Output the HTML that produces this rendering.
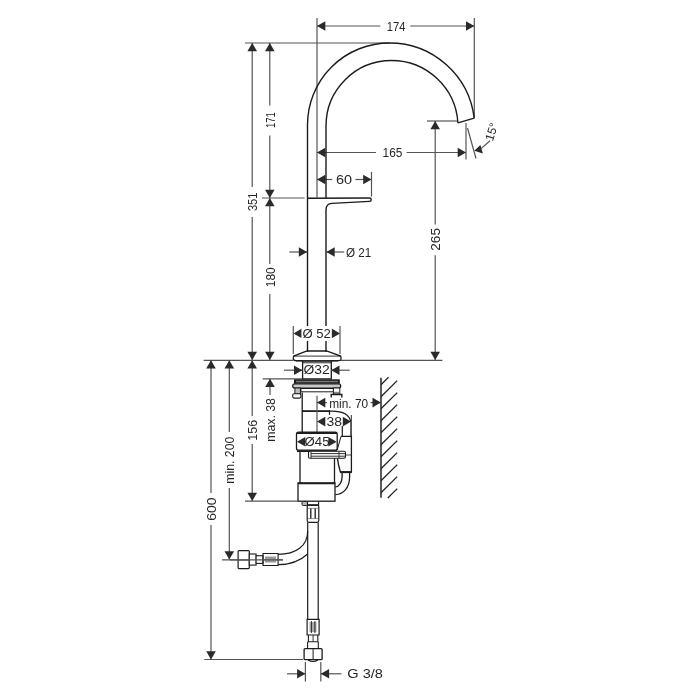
<!DOCTYPE html>
<html><head><meta charset="utf-8"><style>
html,body{margin:0;padding:0;background:#fff;}
svg{display:block;filter:grayscale(1);}
text{font-family:"Liberation Sans",sans-serif;}
</style></head><body>
<svg width="700" height="700" viewBox="0 0 700 700">
<rect width="700" height="700" fill="#fff"/>
<line x1="245" y1="43" x2="390" y2="43" stroke="#555555" stroke-width="1.2"/>
<line x1="317" y1="18" x2="317" y2="197.5" stroke="#555555" stroke-width="1.2"/>
<line x1="474.3" y1="18" x2="474.3" y2="118.2" stroke="#555555" stroke-width="1.2"/>
<line x1="317" y1="26" x2="380.3" y2="26" stroke="#555555" stroke-width="1.2"/>
<line x1="410.3" y1="26" x2="474.3" y2="26" stroke="#555555" stroke-width="1.2"/>
<polygon points="317.00,26.00 325.30,21.20 325.30,30.80" fill="#2a2a2a"/>
<polygon points="474.30,26.00 466.00,30.80 466.00,21.20" fill="#2a2a2a"/>
<text transform="translate(386.76,30.60) scale(0.860,1)" font-size="13.0" fill="#262626">174</text>
<line x1="252.2" y1="43" x2="252.2" y2="187" stroke="#555555" stroke-width="1.2"/>
<line x1="252.2" y1="217" x2="252.2" y2="360" stroke="#555555" stroke-width="1.2"/>
<polygon points="252.20,43.00 257.00,51.30 247.40,51.30" fill="#2a2a2a"/>
<polygon points="252.20,360.00 247.40,351.70 257.00,351.70" fill="#2a2a2a"/>
<text transform="translate(256.90,211.12) rotate(-90) scale(0.860,1)" font-size="13.0" fill="#262626">351</text>
<line x1="269.8" y1="43" x2="269.8" y2="105.4" stroke="#555555" stroke-width="1.2"/>
<line x1="269.8" y1="135.4" x2="269.8" y2="198" stroke="#555555" stroke-width="1.2"/>
<polygon points="269.80,43.00 274.60,51.30 265.00,51.30" fill="#2a2a2a"/>
<polygon points="269.80,198.00 265.00,189.70 274.60,189.70" fill="#2a2a2a"/>
<text transform="translate(274.70,128.02) rotate(-90) scale(0.737,1)" font-size="13.0" fill="#262626">171</text>
<line x1="262" y1="198" x2="304.6" y2="198" stroke="#555555" stroke-width="1.2"/>
<line x1="269.8" y1="198" x2="269.8" y2="264" stroke="#555555" stroke-width="1.2"/>
<line x1="269.8" y1="294" x2="269.8" y2="360" stroke="#555555" stroke-width="1.2"/>
<polygon points="269.80,198.00 274.60,206.30 265.00,206.30" fill="#2a2a2a"/>
<polygon points="269.80,360.00 265.00,351.70 274.60,351.70" fill="#2a2a2a"/>
<text transform="translate(274.60,287.20) rotate(-90) scale(0.920,1)" font-size="13.0" fill="#262626">180</text>
<line x1="317" y1="152.5" x2="376" y2="152.5" stroke="#555555" stroke-width="1.2"/>
<line x1="406.5" y1="152.5" x2="466" y2="152.5" stroke="#555555" stroke-width="1.2"/>
<polygon points="317.00,152.50 325.30,147.70 325.30,157.30" fill="#2a2a2a"/>
<polygon points="466.00,152.50 457.70,157.30 457.70,147.70" fill="#2a2a2a"/>
<text transform="translate(382.61,156.80) scale(0.917,1)" font-size="13.0" fill="#262626">165</text>
<line x1="317" y1="179.5" x2="332.3" y2="179.5" stroke="#555555" stroke-width="1.2"/>
<line x1="355.4" y1="179.5" x2="371.5" y2="179.5" stroke="#555555" stroke-width="1.2"/>
<polygon points="317.00,179.50 325.30,174.70 325.30,184.30" fill="#2a2a2a"/>
<polygon points="371.50,179.50 363.20,184.30 363.20,174.70" fill="#2a2a2a"/>
<line x1="371.5" y1="172" x2="371.5" y2="196.5" stroke="#555555" stroke-width="1.2"/>
<text transform="translate(336.08,183.80) scale(1.113,1)" font-size="13.0" fill="#262626">60</text>
<line x1="289.3" y1="252" x2="307.1" y2="252" stroke="#555555" stroke-width="1.2"/>
<polygon points="307.10,252.00 298.80,256.80 298.80,247.20" fill="#2a2a2a"/>
<line x1="326.4" y1="252" x2="344.3" y2="252" stroke="#555555" stroke-width="1.2"/>
<polygon points="326.40,252.00 334.70,247.20 334.70,256.80" fill="#2a2a2a"/>
<text transform="translate(345.99,256.50) scale(0.897,1)" font-size="13.0" fill="#262626">&#216; 21</text>
<line x1="427" y1="121" x2="458" y2="121" stroke="#555555" stroke-width="1.2"/>
<line x1="435.2" y1="121" x2="435.2" y2="224.4" stroke="#555555" stroke-width="1.2"/>
<line x1="435.2" y1="255.3" x2="435.2" y2="360" stroke="#555555" stroke-width="1.2"/>
<polygon points="435.20,121.00 440.00,129.30 430.40,129.30" fill="#2a2a2a"/>
<polygon points="435.20,360.00 430.40,351.70 440.00,351.70" fill="#2a2a2a"/>
<text transform="translate(440.40,250.68) rotate(-90) scale(1.044,1)" font-size="13.0" fill="#262626">265</text>
<line x1="466" y1="123" x2="466" y2="159.5" stroke="#555555" stroke-width="1.2"/>
<line x1="467.5" y1="128" x2="476" y2="158.5" stroke="#555555" stroke-width="1.2"/>
<polygon points="474.3,150.7 480.4,145 482.9,153.6" fill="#2a2a2a"/>
<line x1="481" y1="148.6" x2="490" y2="140.7" stroke="#555555" stroke-width="1.2"/>
<text transform="translate(495.5,133) rotate(-72)" font-size="12" text-anchor="middle" fill="#262626">15&#176;</text>
<line x1="340" y1="360.4" x2="442.4" y2="360.4" stroke="#555555" stroke-width="1.1"/>
<path d="M307.5,352 L307.5,125 A82,82 0 0 1 389.5,43 A85.3,85.3 0 0 1 474.2,118.2" stroke="#1c1c1c" stroke-width="1.4" fill="none" />
<path d="M326,198 L326,126 A65.5,65.5 0 0 1 391.5,60.5 A66.5,66.5 0 0 1 457.9,122.9" stroke="#1c1c1c" stroke-width="1.4" fill="none" />
<path d="M457.9,122.9 L474.2,118.2" stroke="#1c1c1c" stroke-width="1.4" fill="none" />
<path d="M307.5,198.2 L369.5,198 C371.8,198 371.8,201.3 369.5,201.4 L332,203.4 Q326,203.7 326,210 L326,352" stroke="#1c1c1c" stroke-width="1.4" fill="none" />
<path d="M307,351 L326.5,351 L340.7,356.1 Q342,360.4 339,360.6 L295.5,360.6 Q292.3,360.4 293.6,356.1 Z" stroke="#1c1c1c" stroke-width="1.3" fill="none" />
<line x1="293.8" y1="356.1" x2="340.5" y2="356.1" stroke="#1c1c1c" stroke-width="0.9"/>
<line x1="293.3" y1="326" x2="293.3" y2="354" stroke="#555555" stroke-width="1.2"/>
<line x1="340" y1="326" x2="340" y2="354" stroke="#555555" stroke-width="1.2"/>
<polygon points="293.50,333.40 301.80,328.60 301.80,338.20" fill="#2a2a2a"/>
<polygon points="340.00,333.40 331.70,338.20 331.70,328.60" fill="#2a2a2a"/>
<rect x="301.5" y="326" width="30" height="15" fill="#fff"/>
<text transform="translate(302.44,337.80) scale(1.096,1)" font-size="12" fill="#262626">&#216; 52</text>
<rect x="302.6" y="360.6" width="28.7" height="2.8" fill="#6a6a6a"/>
<line x1="296" y1="361" x2="338" y2="361" stroke="#1c1c1c" stroke-width="1.1"/>
<path d="M302.6,361 L302.6,378.8 L331.3,378.8 L331.3,361" stroke="#1c1c1c" stroke-width="1.3" fill="none" />
<line x1="284" y1="370.2" x2="302.3" y2="370.2" stroke="#555555" stroke-width="1.2"/>
<polygon points="302.30,370.20 294.00,375.00 294.00,365.40" fill="#2a2a2a"/>
<line x1="331.2" y1="370.2" x2="349.7" y2="370.2" stroke="#555555" stroke-width="1.2"/>
<polygon points="331.20,370.20 339.50,365.40 339.50,375.00" fill="#2a2a2a"/>
<text transform="translate(303.51,374.40) scale(1.159,1)" font-size="12" fill="#262626">&#216;32</text>
<line x1="262.7" y1="378.8" x2="302.5" y2="378.8" stroke="#555555" stroke-width="1.2"/>
<line x1="270" y1="378.8" x2="270" y2="395" stroke="#555555" stroke-width="1.2"/>
<polygon points="270.00,378.80 274.80,387.10 265.20,387.10" fill="#2a2a2a"/>
<text transform="translate(275.10,441.83) rotate(-90) scale(0.947,1)" font-size="13.0" fill="#262626">max. 38</text>
<rect x="294" y="379.3" width="45.8" height="4.4" fill="#1c1c1c"/>
<rect x="296" y="380.8" width="41.8" height="1.5" fill="#777"/>
<rect x="292.7" y="383.8" width="48" height="4.2" rx="2" fill="#c8c8c8" stroke="#1c1c1c" stroke-width="1.2"/>
<rect x="300.9" y="388.5" width="32.5" height="3.3" fill="#fff" stroke="#1c1c1c" stroke-width="1"/>
<rect x="294.9" y="388" width="5.5" height="5.8" fill="#bbb" stroke="#1c1c1c" stroke-width="1"/>
<rect x="292.7" y="393.8" width="8.2" height="4.3" rx="1.5" fill="#fff" stroke="#1c1c1c" stroke-width="1.1"/>
<rect x="333.4" y="388" width="6.4" height="5.8" fill="#fff" stroke="#1c1c1c" stroke-width="1"/>
<rect x="334" y="391.8" width="5.2" height="1.8" fill="#888"/>
<path d="M331.2,397.5 L331.2,394.5 L341.8,394.5 L341.8,397.5" stroke="#1c1c1c" stroke-width="1.4" fill="none"/>
<path d="M302.2,392.4 L302.2,411 M329.5,410.5 L329.5,414.7" stroke="#1c1c1c" stroke-width="1.3" fill="none" />
<line x1="302" y1="411.1" x2="330" y2="411.1" stroke="#1c1c1c" stroke-width="1.8"/>
<path d="M302.2,411 L302.2,432" stroke="#1c1c1c" stroke-width="1.3" fill="none" />
<path d="M329.5,411.1 C343,410.5 349.5,415 351,422 L351,436" stroke="#1c1c1c" stroke-width="1.3" fill="none" />
<path d="M342.3,426 L342.3,436" stroke="#1c1c1c" stroke-width="1.2" fill="none" />
<line x1="317" y1="395.7" x2="317" y2="432" stroke="#555555" stroke-width="1.2"/>
<line x1="317" y1="402.6" x2="327" y2="402.6" stroke="#555555" stroke-width="1.2"/>
<polygon points="317.00,402.60 325.30,397.80 325.30,407.40" fill="#2a2a2a"/>
<line x1="370.6" y1="402.6" x2="380.8" y2="402.6" stroke="#555555" stroke-width="1.2"/>
<polygon points="380.80,402.60 372.50,407.40 372.50,397.80" fill="#2a2a2a"/>
<text transform="translate(329.20,408.30) scale(0.914,1)" font-size="13.0" fill="#262626">min. 70</text>
<polygon points="317.00,421.60 325.30,416.80 325.30,426.40" fill="#2a2a2a"/>
<polygon points="351.10,421.60 342.80,426.40 342.80,416.80" fill="#2a2a2a"/>
<line x1="351.4" y1="414.9" x2="351.4" y2="436" stroke="#555555" stroke-width="1.2"/>
<text transform="translate(326.48,426.20) scale(1.118,1)" font-size="12.5" fill="#262626">38</text>
<rect x="296.5" y="432.2" width="40.7" height="18" rx="2" fill="#fff" stroke="#1c1c1c" stroke-width="1.3"/>
<line x1="297" y1="433" x2="337" y2="433" stroke="#1c1c1c" stroke-width="1.8"/>
<line x1="297" y1="451.2" x2="337" y2="451.2" stroke="#1c1c1c" stroke-width="1.8"/>
<polygon points="297.00,441.80 305.30,437.00 305.30,446.60" fill="#2a2a2a"/>
<polygon points="336.60,441.80 328.30,446.60 328.30,437.00" fill="#2a2a2a"/>
<text transform="translate(304.54,446.40) scale(1.102,1)" font-size="12" fill="#262626">&#216;45</text>
<path d="M341,436.3 L351.4,436.3 L351.4,472 L340.4,472 Q338,464 337.5,458.6" stroke="#1c1c1c" stroke-width="1.3" fill="none" />
<line x1="340.4" y1="472.2" x2="351.6" y2="472.2" stroke="#1c1c1c" stroke-width="1.8"/>
<path d="M341,436.3 L337.2,450" stroke="#1c1c1c" stroke-width="1.0" fill="none" />
<rect x="308.5" y="451.3" width="37" height="7" rx="1.5" fill="#fff" stroke="#1c1c1c" stroke-width="1.1"/>
<line x1="311" y1="453.6" x2="345.5" y2="453.6" stroke="#1c1c1c" stroke-width="0.9"/>
<line x1="311" y1="456.2" x2="345.5" y2="456.2" stroke="#1c1c1c" stroke-width="0.9"/>
<line x1="311" y1="451.5" x2="311" y2="458.3" stroke="#1c1c1c" stroke-width="0.9"/>
<line x1="339" y1="451.3" x2="339" y2="458.3" stroke="#1c1c1c" stroke-width="0.8"/>
<line x1="345.5" y1="455" x2="351.2" y2="455" stroke="#1c1c1c" stroke-width="0.8"/>
<path d="M300,452 L300,483 M334.5,458.3 L334.5,483" stroke="#1c1c1c" stroke-width="1.3" fill="none" />
<rect x="298" y="483" width="37" height="18.2" fill="#fff" stroke="#1c1c1c" stroke-width="1.3"/>
<line x1="298" y1="483.3" x2="335" y2="483.3" stroke="#1c1c1c" stroke-width="1.8"/>
<path d="M349.6,472 L349.6,477 C349.6,488 343,494.6 335.4,494.6" stroke="#1c1c1c" stroke-width="1.3" fill="none" />
<path d="M342.1,472 L342.1,477 C342.1,482 339,486.8 335.4,486.8" stroke="#1c1c1c" stroke-width="1.3" fill="none" />
<line x1="203.6" y1="360.4" x2="293" y2="360.4" stroke="#555555" stroke-width="1.1"/>
<line x1="252.2" y1="360" x2="252.2" y2="416" stroke="#555555" stroke-width="1.2"/>
<line x1="252.2" y1="444" x2="252.2" y2="501" stroke="#555555" stroke-width="1.2"/>
<polygon points="252.20,360.20 257.00,368.50 247.40,368.50" fill="#2a2a2a"/>
<polygon points="252.20,501.00 247.40,492.70 257.00,492.70" fill="#2a2a2a"/>
<text transform="translate(257.10,440.63) rotate(-90) scale(0.958,1)" font-size="13.0" fill="#262626">156</text>
<line x1="245" y1="501.2" x2="298" y2="501.2" stroke="#555555" stroke-width="1.2"/>
<line x1="229.3" y1="360" x2="229.3" y2="432" stroke="#555555" stroke-width="1.2"/>
<line x1="229.3" y1="488" x2="229.3" y2="559.5" stroke="#555555" stroke-width="1.2"/>
<polygon points="229.30,360.20 234.10,368.50 224.50,368.50" fill="#2a2a2a"/>
<polygon points="229.30,559.50 224.50,551.20 234.10,551.20" fill="#2a2a2a"/>
<text transform="translate(233.60,483.73) rotate(-90) scale(0.945,1)" font-size="13.0" fill="#262626">min. 200</text>
<line x1="222" y1="559.8" x2="283" y2="559.8" stroke="#555555" stroke-width="1.2"/>
<line x1="211" y1="360" x2="211" y2="493" stroke="#555555" stroke-width="1.2"/>
<line x1="211" y1="525" x2="211" y2="659.5" stroke="#555555" stroke-width="1.2"/>
<polygon points="211.00,360.20 215.80,368.50 206.20,368.50" fill="#2a2a2a"/>
<polygon points="211.00,659.50 206.20,651.20 215.80,651.20" fill="#2a2a2a"/>
<text transform="translate(216.40,520.70) rotate(-90) scale(1.076,1)" font-size="13.0" fill="#262626">600</text>
<line x1="204.3" y1="659.5" x2="303" y2="659.5" stroke="#555555" stroke-width="1.2"/>
<line x1="381" y1="377.7" x2="381" y2="497.7" stroke="#303030" stroke-width="1.6"/>
<g stroke="#222" stroke-width="1.3">
<line x1="381.00" y1="384.80" x2="388.50" y2="377.30"/>
<line x1="381.00" y1="396.80" x2="397.20" y2="380.60"/>
<line x1="381.00" y1="408.80" x2="397.20" y2="392.60"/>
<line x1="381.00" y1="420.80" x2="397.20" y2="404.60"/>
<line x1="381.00" y1="432.80" x2="397.20" y2="416.60"/>
<line x1="381.00" y1="444.80" x2="397.20" y2="428.60"/>
<line x1="381.00" y1="456.80" x2="397.20" y2="440.60"/>
<line x1="381.00" y1="468.80" x2="397.20" y2="452.60"/>
<line x1="381.00" y1="480.80" x2="397.20" y2="464.60"/>
<line x1="381.00" y1="492.80" x2="397.20" y2="476.60"/>
<line x1="387.80" y1="498.00" x2="397.20" y2="488.60"/>
</g>
<rect x="302" y="501.5" width="5.6" height="4" rx="1.2" fill="#bbb" stroke="#1c1c1c" stroke-width="1"/>
<path d="M307.4,501.5 L307.4,505.3 L318.6,505.3 L318.6,501.5" stroke="#1c1c1c" stroke-width="1.1" fill="none" />
<rect x="307.2" y="505" width="11.6" height="17.4" rx="1.8" fill="#fff" stroke="#1c1c1c" stroke-width="1.2"/>
<line x1="308" y1="508.3" x2="318" y2="508.3" stroke="#777" stroke-width="0.8"/>
<line x1="308" y1="518.6" x2="318" y2="518.6" stroke="#777" stroke-width="0.8"/>
<line x1="307.4" y1="505.2" x2="318.6" y2="505.2" stroke="#1c1c1c" stroke-width="1.6"/>
<line x1="310.8" y1="508.5" x2="310.8" y2="518.5" stroke="#1c1c1c" stroke-width="1.3"/>
<line x1="315.2" y1="508.5" x2="315.2" y2="518.5" stroke="#1c1c1c" stroke-width="1.3"/>
<path d="M307.7,522.4 L307.7,619.4 M318.2,522.4 L318.2,619.4" stroke="#1c1c1c" stroke-width="1.2" fill="none" />
<path d="M307.7,531 C307.7,546 296,554.4 278.1,554.4" stroke="#1c1c1c" stroke-width="1.2" fill="none" />
<path d="M307.7,554 C300,561 292,564.7 278.1,564.7" stroke="#1c1c1c" stroke-width="1.2" fill="none" />
<rect x="238.1" y="550.6" width="11.2" height="18" rx="1" fill="#fff" stroke="#1c1c1c" stroke-width="1.2"/>
<line x1="238.5" y1="560" x2="249" y2="560" stroke="#1c1c1c" stroke-width="1"/>
<rect x="249.3" y="554" width="6.8" height="11.1" fill="#fff" stroke="#1c1c1c" stroke-width="1.1"/>
<rect x="256.1" y="555.7" width="6.9" height="7.7" fill="#fff" stroke="#1c1c1c" stroke-width="1.1"/>
<path d="M263,553.5 L278.1,553.5 L278.1,565.5 L263,565.5 Z" stroke="#1c1c1c" stroke-width="1.1" fill="none" />
<rect x="265" y="556.5" width="11" height="6" fill="#999"/>
<line x1="230" y1="559.8" x2="283" y2="559.8" stroke="#555555" stroke-width="1.2"/>
<path d="M307.1,619.4 L319.1,619.4 L319.1,635 L307.1,635 Z" stroke="#1c1c1c" stroke-width="1.2" fill="none" />
<rect x="309.5" y="622" width="7" height="10" fill="#aaa"/>
<line x1="311.4" y1="621" x2="311.4" y2="633" stroke="#1c1c1c" stroke-width="0.9"/>
<line x1="314.9" y1="621" x2="314.9" y2="633" stroke="#1c1c1c" stroke-width="0.9"/>
<path d="M308.4,635 L308.4,641.7 L317.8,641.7 L317.8,635" stroke="#1c1c1c" stroke-width="1.1" fill="none" />
<line x1="313.1" y1="635" x2="313.1" y2="641.7" stroke="#1c1c1c" stroke-width="0.9"/>
<path d="M307.6,641.7 L307.6,648.6 L318.3,648.6 L318.3,641.7" stroke="#1c1c1c" stroke-width="1.1" fill="none" />
<rect x="304.1" y="648.6" width="18" height="11.1" rx="1" fill="#fff" stroke="#1c1c1c" stroke-width="1.3"/>
<line x1="313.1" y1="649" x2="313.1" y2="659.5" stroke="#1c1c1c" stroke-width="1"/>
<path d="M308,660 Q313,663 318,660" stroke="#1c1c1c" stroke-width="1.1" fill="none" />
<line x1="305.4" y1="662" x2="305.4" y2="681.4" stroke="#555555" stroke-width="1.2"/>
<line x1="320.8" y1="662" x2="320.8" y2="681.4" stroke="#555555" stroke-width="1.2"/>
<line x1="287" y1="673.8" x2="305.4" y2="673.8" stroke="#555555" stroke-width="1.2"/>
<polygon points="305.40,673.80 297.10,678.60 297.10,669.00" fill="#2a2a2a"/>
<line x1="320.8" y1="673.8" x2="341.4" y2="673.8" stroke="#555555" stroke-width="1.2"/>
<polygon points="320.80,673.80 329.10,669.00 329.10,678.60" fill="#2a2a2a"/>
<text transform="translate(347.27,678.00) scale(1.122,1)" font-size="13.0" fill="#262626">G 3/8</text>
</svg></body></html>
